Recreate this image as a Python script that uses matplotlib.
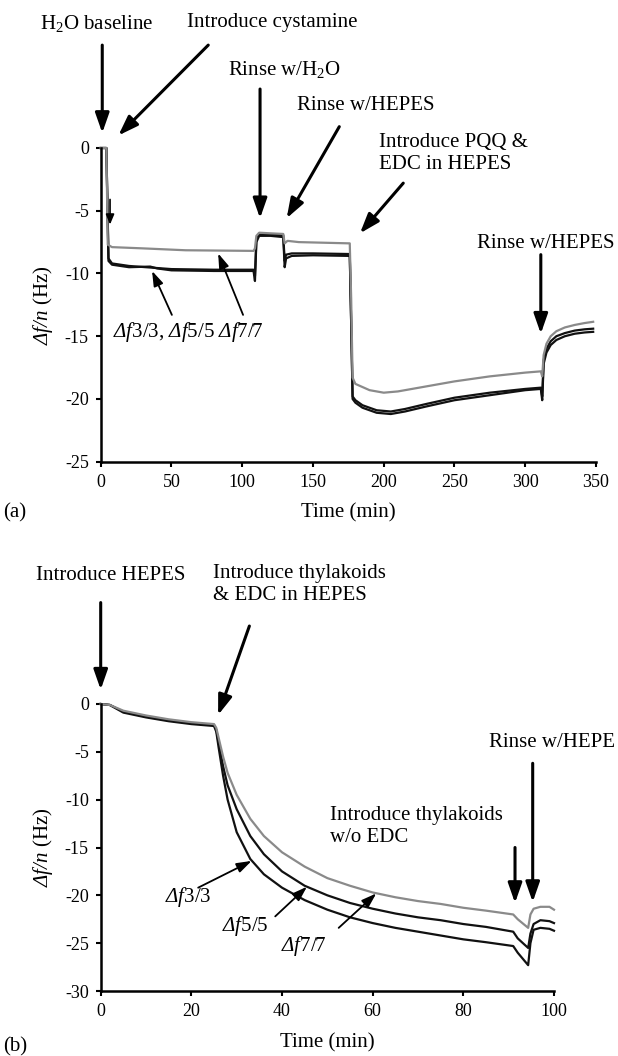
"""QCM frequency shift traces for the two surface modification steps (a) and (b)."""

import matplotlib

matplotlib.use("Agg")
import matplotlib.pyplot as plt

plt.rcParams["font.family"] = ["Liberation Serif", "DejaVu Serif"]
plt.rcParams["mathtext.fontset"] = "custom"
plt.rcParams["mathtext.rm"] = "Liberation Serif"
plt.rcParams["mathtext.it"] = "Liberation Serif:italic"
plt.rcParams["mathtext.sf"] = "Liberation Serif:italic"
plt.rcParams["axes.unicode_minus"] = False

GRAY = "#8a8a8a"
BLACK = "#111111"

# ---- panel (a): cystamine / PQQ steps ----
A_T_F3 = [0, 4, 5.5, 8, 20, 35, 40, 50, 80, 108, 109, 110, 112, 120, 129, 130, 131, 135, 150,
          176, 177, 178, 180, 185, 195, 205, 215, 230, 250, 275, 300, 311, 312, 313, 315, 318,
          322, 328, 335, 342, 348]
A_F3 = [0, 0, -9.0, -9.3, -9.5, -9.45, -9.6, -9.75, -9.8, -9.8, -10.6, -7.5, -7.0, -7.0, -7.1,
        -9.5, -8.8, -8.6, -8.55, -8.6, -14.0, -20.0, -20.3, -20.7, -21.1, -21.2, -21.0, -20.6,
        -20.1, -19.7, -19.3, -19.2, -20.1, -17.2, -16.3, -15.7, -15.3, -15.0, -14.8, -14.7, -14.65]

A_T_F5 = [0, 4, 5.5, 8, 20, 50, 80, 108, 109, 110, 112, 120, 129, 130, 131, 135, 150, 176, 177,
          178, 180, 185, 195, 205, 215, 230, 250, 275, 300, 311, 312, 313, 315, 318, 322, 328,
          335, 342, 348]
A_F5 = [0, 0, -8.8, -9.2, -9.4, -9.65, -9.7, -9.7, -10.2, -7.3, -6.9, -6.9, -6.95, -9.0, -8.5,
        -8.4, -8.4, -8.45, -14.0, -19.8, -20.1, -20.5, -20.9, -21.0, -20.8, -20.4, -19.9, -19.5,
        -19.2, -19.1, -19.8, -16.9, -16.0, -15.4, -15.0, -14.75, -14.55, -14.45, -14.4]

A_T_F7 = [0, 4, 5, 8, 30, 60, 108, 109, 110, 112, 120, 129, 130, 132, 140, 176, 177, 178, 180,
          190, 200, 210, 225, 250, 275, 300, 311, 312, 313, 315, 318, 322, 328, 335, 342, 348]
A_F7 = [0, 0, -7.7, -7.9, -8.0, -8.15, -8.2, -8.0, -7.0, -6.75, -6.8, -6.85, -7.6, -7.4, -7.5,
        -7.6, -12.0, -18.3, -18.8, -19.3, -19.5, -19.4, -19.1, -18.6, -18.2, -17.9, -17.8, -18.2,
        -16.5, -15.6, -15.0, -14.6, -14.3, -14.1, -13.95, -13.85]

A_XTICKS = [0, 50, 100, 150, 200, 250, 300, 350]
A_YTICKS = [0, -5, -10, -15, -20, -25]

# ---- panel (b): thylakoid immobilisation ----
B_T = [0, 2, 5, 10, 15, 20, 25, 25.5, 26, 27, 28, 30, 33, 36, 40, 45, 50, 55, 60, 65, 70, 75,
       80, 85, 91, 92, 94.3, 94.8, 95.5, 97, 99, 100]
B_F3 = [0, -0.1, -0.9, -1.4, -1.8, -2.1, -2.3, -2.9, -4.5, -7.5, -10.0, -13.4, -16.2, -17.8,
        -19.2, -20.5, -21.5, -22.3, -22.9, -23.4, -23.8, -24.2, -24.6, -24.9, -25.3, -26.0,
        -27.3, -25.0, -23.6, -23.4, -23.5, -23.7]
B_F5 = [0, -0.1, -0.8, -1.3, -1.7, -2.0, -2.2, -2.7, -4.0, -6.5, -8.5, -11.0, -13.8, -15.7,
        -17.5, -19.0, -20.0, -20.8, -21.4, -21.9, -22.3, -22.6, -23.0, -23.3, -23.8, -24.5,
        -25.5, -24.0, -23.0, -22.6, -22.7, -22.9]
B_F7 = [0, -0.1, -0.7, -1.2, -1.6, -1.9, -2.1, -2.5, -3.5, -5.5, -7.2, -9.5, -12.0, -13.8,
        -15.5, -17.0, -18.2, -19.0, -19.7, -20.2, -20.6, -20.9, -21.3, -21.6, -22.0, -22.5,
        -23.4, -22.0, -21.4, -21.2, -21.2, -21.5]

B_XTICKS = [0, 20, 40, 60, 80, 100]
B_YTICKS = [0, -5, -10, -15, -20, -25, -30]

W, H = 618, 1056


def fig_xy(px, py):
    """Pixel position in the 618x1056 canvas -> figure fraction."""
    return px / W, 1 - py / H


def arrow(ax, tail, head, lw=2.2, hl=1.2, hw=0.42):
    ax.annotate(
        "", xy=head, xytext=tail, annotation_clip=False,
        arrowprops=dict(arrowstyle=f"-|>,head_length={hl},head_width={hw}",
                        lw=lw, color="black", shrinkA=0, shrinkB=0),
    )


def style_axes(ax, xticks, yticks):
    for side in ("top", "right"):
        ax.spines[side].set_visible(False)
    for side in ("left", "bottom"):
        ax.spines[side].set_linewidth(1.8)
    ax.set_xticks(xticks)
    ax.set_yticks(yticks)
    ax.tick_params(direction="out", length=3.6, width=1.5, labelsize=13, pad=5)


def main() -> None:
    fig = plt.figure(figsize=(W / 100, H / 100), dpi=100)

    # ---------------- (a) ----------------
    ax_a = fig.add_axes([100.7 / W, 1 - 461.7 / H, 495.3 / W, 313.7 / H])
    ax_a.plot(A_T_F3, A_F3, color=BLACK, lw=1.6, clip_on=False)
    ax_a.plot(A_T_F5, A_F5, color=BLACK, lw=1.6, clip_on=False)
    ax_a.plot(A_T_F7, A_F7, color=GRAY, lw=1.6, clip_on=False)
    ax_a.set_xlim(0, 350)
    ax_a.set_ylim(-25, 0)
    style_axes(ax_a, A_XTICKS, A_YTICKS)
    ax_a.set_xlabel("Time (min)", fontsize=15)
    ax_a.set_ylabel(r"$\mathsf{\Delta f/n}$ (Hz)", fontsize=15)
    ax_a.xaxis.label.set_va("center")
    ax_a.yaxis.label.set_va("center")
    ax_a.xaxis.set_label_coords(0.5, -0.1635)
    ax_a.yaxis.set_label_coords(-0.1165, 0.5)

    txt = dict(fontsize=15, ha="left", va="center")
    fig.text(*fig_xy(40, 23), r"H$_2$O baseline", **txt)
    fig.text(*fig_xy(187, 23), "Introduce cystamine", **txt)
    fig.text(*fig_xy(228, 70), r"Rinse w/H$_2$O", **txt)
    fig.text(*fig_xy(297, 106), "Rinse w/HEPES", **txt)
    fig.text(*fig_xy(379, 153.5), "Introduce PQQ &\nEDC in HEPES", linespacing=1.2, **txt)
    fig.text(*fig_xy(477, 243), "Rinse w/HEPES", **txt)
    fig.text(*fig_xy(3, 513), "(a)", **txt)

    arrow(ax_a, (1.1, 8.2), (1.1, 1.2))
    arrow(ax_a, (76.0, 8.2), (12.5, 1.0))
    arrow(ax_a, (112.6, 4.7), (112.6, -5.6))
    arrow(ax_a, (168.6, 1.7), (131.4, -5.6))
    arrow(ax_a, (213.8, -2.8), (183.2, -6.8))
    arrow(ax_a, (311, -8.5), (311, -14.8))
    arrow(ax_a, (6.6, -4.1), (6.6, -6.1), lw=1.2, hl=0.6, hw=0.25)

    ax_a.text(8.9, -14.65, r"$\mathsf{\Delta f}$3/3, $\mathsf{\Delta f}$5/5 $\mathsf{\Delta f}$7/7",
              fontsize=15, ha="left", va="center")
    arrow(ax_a, (50.3, -13.3), (36.3, -9.8), lw=1.3, hl=0.9, hw=0.3)
    arrow(ax_a, (100.6, -13.3), (83.0, -8.4), lw=1.3, hl=0.9, hw=0.3)

    # ---------------- (b) ----------------
    ax_b = fig.add_axes([100.7 / W, 1 - 991 / H, 453.3 / W, 287 / H])
    ax_b.plot(B_T, B_F3, color=BLACK, lw=1.6, clip_on=False)
    ax_b.plot(B_T, B_F5, color=BLACK, lw=1.6, clip_on=False)
    ax_b.plot(B_T, B_F7, color=GRAY, lw=1.6, clip_on=False)
    ax_b.set_xlim(0, 100)
    ax_b.set_ylim(-30, 0)
    style_axes(ax_b, B_XTICKS, B_YTICKS)
    ax_b.set_xlabel("Time (min)", fontsize=15)
    ax_b.set_ylabel(r"$\mathsf{\Delta f/n}$ (Hz)", fontsize=15)
    ax_b.xaxis.label.set_va("center")
    ax_b.yaxis.label.set_va("center")
    ax_b.xaxis.set_label_coords(0.5, -0.181)
    ax_b.yaxis.set_label_coords(-0.1273, 0.5)

    fig.text(*fig_xy(36, 575), "Introduce HEPES", **txt)
    fig.text(*fig_xy(213, 584.7), "Introduce thylakoids\n& EDC in HEPES", linespacing=1.2, **txt)
    fig.text(*fig_xy(330, 826.5), "Introduce thylakoids\nw/o EDC", linespacing=1.2, **txt)
    fig.text(*fig_xy(489, 742.7), "Rinse w/HEPE", **txt)
    fig.text(*fig_xy(3, 1047), "(b)", **txt)

    arrow(ax_b, (0, 10.6), (0, 1.5))
    arrow(ax_b, (32.8, 8.15), (25.9, -1.15))
    arrow(ax_b, (91.4, -15.0), (91.4, -20.8))
    arrow(ax_b, (95.3, -6.2), (95.3, -20.7))

    ax_b.text(14.1, -20.2, r"$\mathsf{\Delta f}$3/3", fontsize=15, ha="left", va="center")
    ax_b.text(26.8, -23.2, r"$\mathsf{\Delta f}$5/5", fontsize=15, ha="left", va="center")
    ax_b.text(39.8, -25.3, r"$\mathsf{\Delta f}$7/7", fontsize=15, ha="left", va="center")
    arrow(ax_b, (21.5, -19.2), (33.3, -16.4), lw=1.3, hl=0.9, hw=0.3)
    arrow(ax_b, (38.5, -22.2), (45.5, -19.1), lw=1.3, hl=0.9, hw=0.3)
    arrow(ax_b, (52.5, -23.4), (60.8, -19.8), lw=1.3, hl=0.9, hw=0.3)

    fig.savefig("out.png", dpi=100)
    plt.close(fig)


if __name__ == "__main__":
    main()
